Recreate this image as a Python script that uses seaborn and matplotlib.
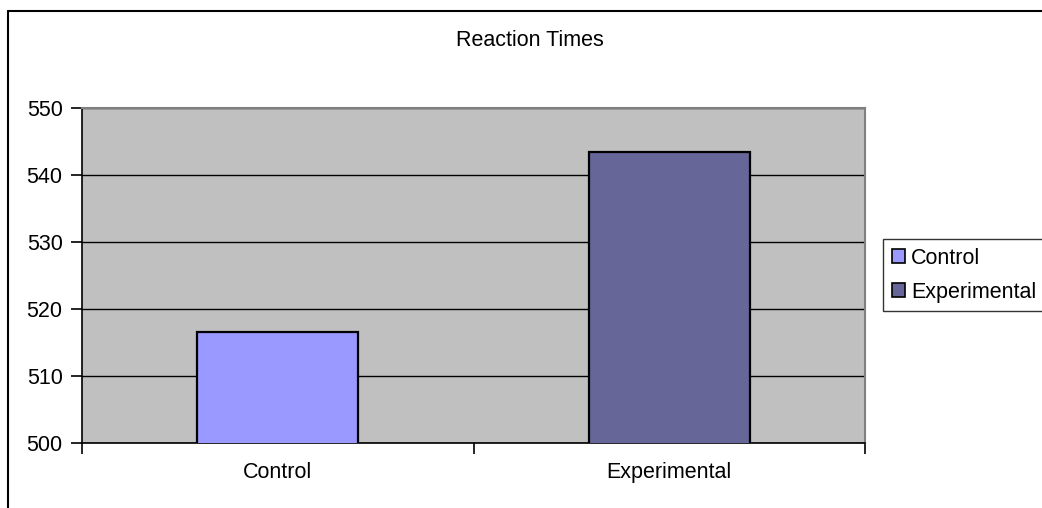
import matplotlib
matplotlib.use("Agg")
import matplotlib.pyplot as plt
import seaborn as sns
import pandas as pd
from matplotlib.lines import Line2D
from matplotlib.patches import Patch

categories = ["Control", "Experimental"]
values = [516.6, 543.4]
colors = ["#9999FF", "#666699"]
yticks = [500, 510, 520, 530, 540, 550]
title = "Reaction Times"

sns.set_theme(style="ticks")
plt.rcParams['font.family'] = ['Liberation Sans', 'DejaVu Sans']
plt.rcParams['text.color'] = 'black'
plt.rcParams['xtick.color'] = 'black'
plt.rcParams['ytick.color'] = 'black'
plt.rcParams['xtick.labelcolor'] = 'black'
plt.rcParams['ytick.labelcolor'] = 'black'
plt.rcParams['ytick.left'] = True
plt.rcParams['ytick.major.size'] = 8
plt.rcParams['ytick.major.width'] = 1.2
FS = 15.5

df = pd.DataFrame({"group": categories, "rt": values})

W, H = 1042, 508
fig = plt.figure(figsize=(W / 100, H / 100), dpi=100)
fig.patch.set_facecolor("white")
ax = fig.add_axes([82 / W, 1 - 443 / H, (865 - 82) / W, (443 - 108) / H])
ax.set_facecolor("#C0C0C0")

sns.barplot(data=df, x="group", y="rt", hue="group", palette=colors,
            saturation=1, dodge=False, width=0.41, edgecolor="black",
            linewidth=1.6, legend=False, ax=ax, zorder=3)

ax.set_ylim(500, 550)
ax.set_xlim(-0.5, 1.5)
ax.set_yticks(yticks)
ax.set_yticklabels([str(t) for t in yticks], fontsize=FS)
ax.yaxis.grid(True, color="black", linewidth=1.0, zorder=1)
ax.set_axisbelow(True)
ax.set_xlabel("")
ax.set_ylabel("")

ax.set_xticks([0, 1])
ax.set_xticklabels(categories, fontsize=FS)
ax.tick_params(axis="x", which="major", length=0, pad=14, bottom=True)
ax.set_xticks([-0.5, 0.5, 1.5], minor=True)
ax.tick_params(axis="x", which="minor", length=8, width=1.2, color="black",
               direction="out", bottom=True)
ax.tick_params(axis="y", which="major", length=8, width=1.2, color="black",
               direction="out", left=True, pad=6)
ax.tick_params(axis="y", which="minor", left=False)

for side in ["top", "right"]:
    ax.spines[side].set_visible(True)
    ax.spines[side].set_color("#808080")
    ax.spines[side].set_linewidth(1.5)
for side in ["left", "bottom"]:
    ax.spines[side].set_color("black")
    ax.spines[side].set_linewidth(1.2)

fig.add_artist(Line2D([8 / W, 8 / W], [0, 1 - 11 / H], transform=fig.transFigure,
                      color="black", linewidth=1.5))
fig.add_artist(Line2D([8 / W, 1], [1 - 11 / H, 1 - 11 / H], transform=fig.transFigure,
                      color="black", linewidth=1.5))

fig.text(530 / W, 1 - 40 / H, title, ha="center", va="center", fontsize=FS)

handles = [Patch(facecolor=c, edgecolor="black", linewidth=1.2) for c in colors]
leg = fig.legend(handles, categories, loc="upper left",
                 bbox_to_anchor=(883 / W, 1 - 239 / H), fontsize=FS,
                 frameon=True, fancybox=False, edgecolor="black",
                 handlelength=0.6, handleheight=0.6, handletextpad=0.3,
                 borderpad=0.4, labelspacing=0.6, borderaxespad=0)
leg.get_frame().set_linewidth(1.0)

fig.savefig("out.png", dpi=100)
